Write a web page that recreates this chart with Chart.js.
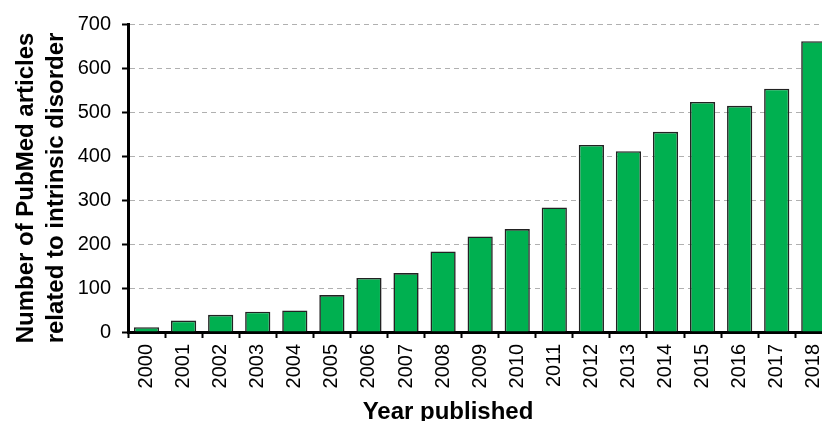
<!DOCTYPE html>
<html>
<head>
<meta charset="utf-8">
<script src="https://cdn.jsdelivr.net/npm/chart.js@4"></script>
<style>
  html, body { margin: 0; padding: 0; background: #fff; overflow: hidden; }
  #wrap { width: 844px; height: 421px; }
</style>
</head>
<body>
<div id="wrap"><canvas id="myChart"></canvas></div>
<script>
// data
let years = ["2000", "2001", "2002", "2003", "2004", "2005", "2006", "2007", "2008", "2009",
             "2010", "2011", "2012", "2013", "2014", "2015", "2016", "2017", "2018"];
let articleCounts = [11, 26, 39, 46, 49, 84, 123, 134, 183, 217, 234, 283, 425, 411, 455, 523, 514, 553, 661];
let yTicks = [0, 100, 200, 300, 400, 500, 600, 700];

let yTitle = ["Number of PubMed articles", "related to intrinsic disorder"];
let xTitle = "Year published";

const fontFamily = "'Liberation Sans', Arial, sans-serif";

//--AXIS TITLES (placed like the original, a bit off the plot centre)------------------
const titlesPlugin = {
  id: "titlesPlugin",
  afterDraw(chart) {
    let ctx = chart.ctx;
    ctx.save();
    ctx.font = "bold 24px " + fontFamily;
    ctx.fillStyle = "#000";
    ctx.textAlign = "center";
    ctx.textBaseline = "alphabetic";
    ctx.fillText(xTitle, 448, 419);

    ctx.translate(0, 188);
    ctx.rotate(-Math.PI / 2);
    ctx.fillText(yTitle[0], 0, 33);
    ctx.fillText(yTitle[1], 0, 63);
    ctx.restore();
  },
};

//--DRAW CHART------------------------------------------------------------------------
function drawChart() {
  const ctx = document.getElementById("myChart").getContext("2d");
  const chart = new Chart(ctx, {
    type: "bar",
    data: {
      labels: years,
      datasets: [
        {
          label: "Articles",
          data: articleCounts,
          backgroundColor: "#00B050",
          borderColor: "#222222",
          borderWidth: 1.6,
          categoryPercentage: 0.68,
          barPercentage: 1,
        },
      ],
    },
    plugins: [titlesPlugin],
    options: {
      responsive: true,
      maintainAspectRatio: false,
      animation: false,
      devicePixelRatio: 1,
      layout: { padding: { left: 0, right: 8, top: 24, bottom: 0 } },
      plugins: { legend: { display: false }, tooltip: { enabled: false } },
      scales: {
        x: {
          offset: true,
          afterFit: (axis) => {
            axis.height = 89;
          },
          grid: {
            display: true,
            offset: true,
            drawOnChartArea: false,
            drawTicks: true,
            tickLength: 6,
            tickColor: "#000",
            tickWidth: 2,
          },
          border: { display: true, color: "#000", width: 3 },
          ticks: {
            color: "#000",
            font: { family: fontFamily, size: 20 },
            minRotation: 90,
            maxRotation: 90,
            autoSkip: false,
            padding: 6,
          },
        },
        y: {
          min: 0,
          max: 700,
          afterFit: (axis) => {
            axis.width = 128;
          },
          afterBuildTicks: (axis) => {
            axis.ticks = yTicks.map((v) => ({ value: v }));
          },
          grid: {
            color: "#b0b0b0",
            lineWidth: 1,
            tickColor: "#000",
            tickLength: 6,
            tickWidth: 2,
            tickBorderDash: [],
          },
          border: { display: true, color: "#000", width: 3, dash: [5, 4] },
          ticks: {
            color: "#000",
            font: { family: fontFamily, size: 20 },
            padding: 11,
          },
        },
      },
    },
  });
}

drawChart();
</script>
</body>
</html>
